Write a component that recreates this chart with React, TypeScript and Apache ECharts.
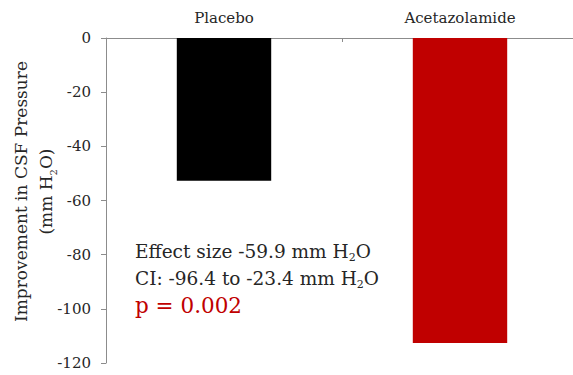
import React, { useEffect, useRef } from "react";
import * as echarts from "echarts";

const categories = ["Placebo", "Acetazolamide"];
const values = [-52.7, -112.6];
const barColors = ["#000000", "#C00000"];
const yTicks = { min: -120, max: 0, interval: 20 };
const annotationLines = [
  "Effect size -59.9 mm H{sub|2}O",
  "CI: -96.4 to -23.4 mm H{sub|2}O",
];
const pText = "p = 0.002";

const FONT = "'DejaVu Serif', serif";
const TEXT = "#262626";

export default function App() {
  const ref = useRef<HTMLDivElement>(null);
  useEffect(() => {
    if (!ref.current) return;
    const chart = echarts.init(ref.current, undefined, { renderer: "svg" });
    chart.setOption({
      animation: false,
      backgroundColor: "#ffffff",
      grid: { left: 106, top: 38, bottom: 12, width: 472, containLabel: false, outerBoundsMode: "none" },
      xAxis: {
        type: "category",
        data: categories,
        position: "top",
        axisLine: { show: true, lineStyle: { color: "#8c8c8c", width: 1 } },
        axisTick: { show: true, inside: true, length: 4, lineStyle: { color: "#8c8c8c" } },
        axisLabel: { color: TEXT, fontFamily: FONT, fontSize: 15, margin: 13 },
      },
      yAxis: {
        type: "value",
        min: yTicks.min,
        max: yTicks.max,
        interval: yTicks.interval,
        splitLine: { show: false },
        axisLine: { show: true, lineStyle: { color: "#8c8c8c", width: 1 } },
        axisTick: { show: true, length: 5, lineStyle: { color: "#8c8c8c" } },
        axisLabel: { color: TEXT, fontFamily: FONT, fontSize: 15, margin: 15 },
        name: "{t|Improvement in CSF Pressure}\n{t|(mm H}{s|2}{t|O)}",
        nameLocation: "middle",
        nameRotate: 90,
        nameGap: 48,
        nameMoveOverlap: false,
        nameTextStyle: {
          padding: [0, 0, 0, 18],
          rich: {
            t: { fontFamily: FONT, fontSize: 17, color: TEXT, lineHeight: 25 },
            s: { fontFamily: FONT, fontSize: 10, color: TEXT, lineHeight: 25, verticalAlign: "bottom" },
          },
        },
      },
      series: [
        {
          type: "bar",
          barWidth: "40%",
          data: values.map((v, i) => ({ value: v, itemStyle: { color: barColors[i] } })),
        },
      ],
      graphic: [
        {
          type: "text",
          left: 135,
          top: 238,
          style: {
            text: annotationLines.join("\n"),
            fontFamily: FONT,
            fontSize: 18.5,
            lineHeight: 27,
            fill: TEXT,
            rich: {
              sub: { fontFamily: FONT, fontSize: 11, fill: TEXT, lineHeight: 27, verticalAlign: "bottom", padding: [0, 0, 2, 0] },
            } as any,
          },
        },
        {
          type: "text",
          left: 135,
          top: 294,
          style: { text: pText, fontFamily: FONT, fontSize: 21.5, fill: "#C00000" },
        },
      ],
    });
    return () => chart.dispose();
  }, []);
  return <div ref={ref} style={{ position: "absolute", left: 0, top: 0, width: 573, height: 375 }} />;
}
